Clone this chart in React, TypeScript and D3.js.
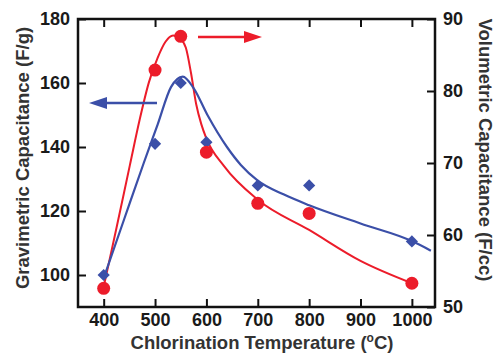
import React, { useEffect, useRef } from 'react';
import * as d3 from 'd3';

// measured points
const temps = [400, 500, 550, 600, 700, 800, 1000];
const gravimetric = [100, 141, 160, 141.5, 128, 128, 110.5];
const volumetric = [52.6, 82.9, 87.6, 71.5, 64.4, 63.0, 53.3];

// fitted guide curves
const gravFitT = [400, 440, 478, 505, 531, 554, 575, 602, 640, 667, 700, 750, 800, 900, 1000, 1037];
const gravFitV = [99, 117.5, 135, 147, 158.7, 162, 158.4, 150, 140, 134.4, 129.5, 125.2, 121.8, 116.1, 110.6, 107.6];
const volFitT = [400, 425, 451, 470, 488, 505, 520, 535, 550, 560, 570, 580, 590, 600, 634, 700, 800, 900, 1000];
const volFitV = [52.8, 61, 69.7, 76, 81.2, 84.6, 86.8, 87.7, 87.2, 86, 82.5, 78.2, 75.4, 73.4, 69.6, 64.9, 60.7, 56.4, 53.3];

const xTicks = [400, 500, 600, 700, 800, 900, 1000];
const leftTicks = [100, 120, 140, 160, 180];
const rightTicks = [50, 60, 70, 80, 90];

const RED = '#ec1c2a';
const BLUE = '#3b4fa8';
const FONT = '"Liberation Sans", Arial, sans-serif';

function CapacitanceChart() {
    const svgRef = useRef<SVGSVGElement>(null);

    useEffect(() => {
        const width = 500;
        const height = 356;
        const m = { left: 78, right: 435, top: 19, bottom: 307 };

        const svg = d3.select(svgRef.current)
            .attr('width', width)
            .attr('height', height);
        svg.selectAll('*').remove();

        const x = d3.scaleLinear().domain([350, 1045]).range([m.left, m.right]);
        const yL = d3.scaleLinear().domain([90, 180]).range([m.bottom, m.top]);
        const yR = d3.scaleLinear().domain([50, 90]).range([m.bottom, m.top]);

        // axes, ticks pointing inward
        const styleAxis = (g: any) => {
            g.select('.domain').remove();
            g.selectAll('.tick line').attr('stroke', '#111').attr('stroke-width', 2);
            g.selectAll('.tick text')
                .attr('fill', '#1a1a1a')
                .style('font-family', FONT)
                .style('font-weight', 'bold')
                .style('font-size', '18px');
        };
        const fmt = d3.format('d');

        svg.append('g')
            .attr('transform', `translate(0,${m.bottom})`)
            .call(d3.axisBottom(x).tickValues(xTicks).tickSize(-8).tickPadding(6).tickFormat(fmt))
            .call(styleAxis);
        svg.append('g')
            .attr('transform', `translate(0,${m.top})`)
            .call(d3.axisTop(x).tickValues(xTicks).tickSize(-8).tickFormat(() => ''))
            .call(styleAxis);
        svg.append('g')
            .attr('transform', `translate(${m.left},0)`)
            .call(d3.axisLeft(yL).tickValues(leftTicks).tickSize(-8).tickPadding(8).tickFormat(fmt))
            .call(styleAxis);
        svg.append('g')
            .attr('transform', `translate(${m.right},0)`)
            .call(d3.axisRight(yR).tickValues(rightTicks).tickSize(-8).tickPadding(8).tickFormat(fmt))
            .call(styleAxis);

        // frame
        svg.append('rect')
            .attr('x', m.left)
            .attr('y', m.top)
            .attr('width', m.right - m.left)
            .attr('height', m.bottom - m.top)
            .attr('fill', 'none')
            .attr('stroke', '#111')
            .attr('stroke-width', 2.5);

        // fit curves
        const lineL = d3.line<number>()
            .x((_, i) => x(gravFitT[i]))
            .y((d) => yL(d))
            .curve(d3.curveMonotoneX);
        const lineR = d3.line<number>()
            .x((_, i) => x(volFitT[i]))
            .y((d) => yR(d))
            .curve(d3.curveMonotoneX);

        svg.append('path')
            .attr('d', lineR(volFitV))
            .attr('fill', 'none')
            .attr('stroke', RED)
            .attr('stroke-width', 2);
        svg.append('path')
            .attr('d', lineL(gravFitV))
            .attr('fill', 'none')
            .attr('stroke', BLUE)
            .attr('stroke-width', 2.2);

        // markers
        svg.append('g')
            .selectAll('path')
            .data(gravimetric)
            .enter()
            .append('path')
            .attr('d', d3.symbol().type(d3.symbolDiamond2).size(95))
            .attr('transform', (d, i) => `translate(${x(temps[i])},${yL(d)})`)
            .attr('fill', BLUE);
        svg.append('g')
            .selectAll('circle')
            .data(volumetric)
            .enter()
            .append('circle')
            .attr('cx', (_, i) => x(temps[i]))
            .attr('cy', (d) => yR(d))
            .attr('r', 6.5)
            .attr('fill', RED);

        // direction arrows
        const arrow = (x1: number, x2: number, y: number, color: string) => {
            const dir = Math.sign(x2 - x1);
            const headLen = 18;
            svg.append('line')
                .attr('x1', x1).attr('x2', x2 - dir * headLen + dir)
                .attr('y1', y).attr('y2', y)
                .attr('stroke', color)
                .attr('stroke-width', 2.5);
            svg.append('path')
                .attr('d', `M${x2},${y} L${x2 - dir * headLen},${y - 6} L${x2 - dir * headLen},${y + 6} Z`)
                .attr('fill', color);
        };
        arrow(198, 262, 37, RED);
        arrow(157, 89, 103, BLUE);

        // axis titles
        const title = svg.append('g')
            .style('font-family', FONT)
            .style('font-weight', 'bold')
            .style('font-size', '18.5px')
            .attr('fill', '#333');

        const xt = title.append('text')
            .attr('x', 262)
            .attr('y', 349)
            .attr('text-anchor', 'middle');
        xt.append('tspan').text('Chlorination Temperature (');
        xt.append('tspan').text('o').attr('dy', -7).style('font-size', '12px');
        xt.append('tspan').text('C)').attr('dy', 7);

        title.append('text')
            .attr('transform', 'translate(22,158) rotate(-90)')
            .attr('text-anchor', 'middle')
            .attr('dominant-baseline', 'central')
            .text('Gravimetric Capacitance (F/g)');
        title.append('text')
            .attr('transform', 'translate(485,150) rotate(90)')
            .attr('text-anchor', 'middle')
            .attr('dominant-baseline', 'central')
            .text('Volumetric Capacitance (F/cc)');
    }, []);

    return (
        <div style={{ position: 'absolute', left: 0, top: 0 }}>
            <svg ref={svgRef} style={{ display: 'block', background: '#fff' }}></svg>
        </div>
    );
}

export default function App() {
    return <CapacitanceChart />;
}
